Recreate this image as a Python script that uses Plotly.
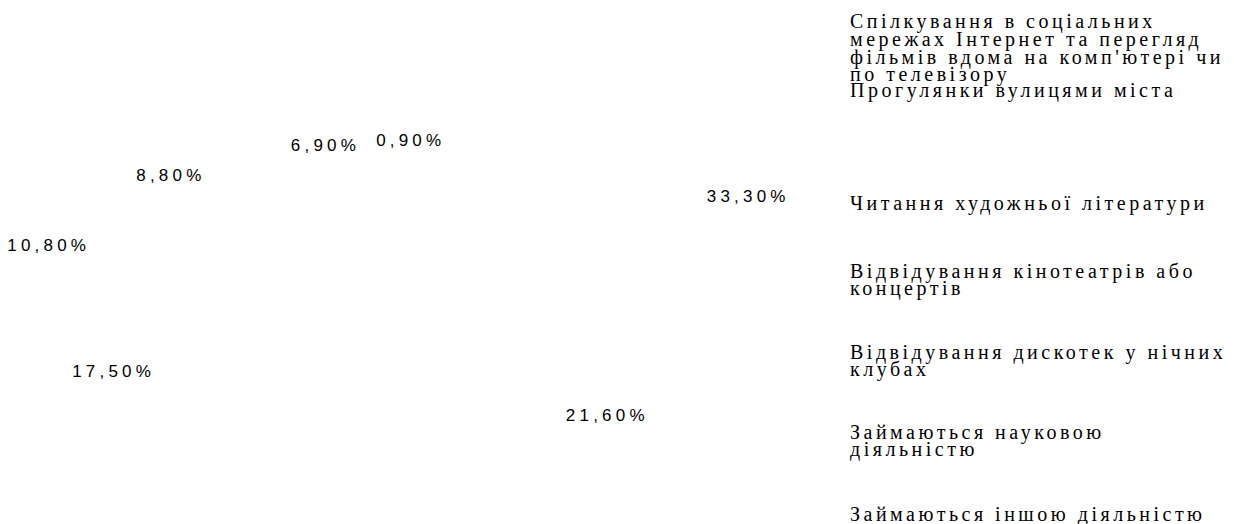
import numpy as np
import plotly.graph_objects as go

# ---- data ----
categories = [
    "Спілкування в соціальних<br>мережах Інтернет та перегляд<br>фільмів вдома на комп'ютері чи<br>по телевізору",
    "Прогулянки вулицями міста",
    "Читання художньої літератури",
    "Відвідування кінотеатрів або<br>концертів",
    "Відвідування дискотек у нічних<br>клубах",
    "Займаються науковою<br>діяльністю",
    "Займаються іншою діяльністю",
]
values = [33.3, 21.6, 17.5, 10.8, 8.8, 6.9, 0.9]
pct_labels = [f"{v:.2f}%".replace(".", ",") for v in values]

# ---- style / layout constants ----
W, H = 1234, 524
CX, CY = 425, 260          # centre of the (tilted) pie, px
RX, RY = 396, 142.5        # label ring radii, px
PERSPECTIVE = 8.0          # viewer distance (in radii) of the 3-D pie
FIRST_SLICE_DEG = -2.0     # first slice angle, clockwise from 12 o'clock
LEG_X = 841
LEG_FIRST_Y = [21, 90, 202, 270, 351, 431, 513]
LEG_LINE = 17.5
LEG_DY = -7
PCT_SPACING = "4.2px"
LEG_SPACING = "3.5px"

# label positions on a 3-D tilted pie with perspective (clockwise)
vals = np.array(values)
cum = np.cumsum(vals)
mid = (cum - vals / 2) / vals.sum() * 2 * np.pi + np.deg2rad(FIRST_SLICE_DEG)
scale = PERSPECTIVE / (PERSPECTIVE + np.cos(mid))
lx = np.sin(mid) * scale
ly = np.cos(mid) * scale

fig = go.Figure()

# the pie itself (slices are invisible in the reference)
fig.add_trace(go.Pie(
    labels=[c.replace("<br>", " ") for c in categories], values=values,
    sort=False, direction="clockwise", rotation=FIRST_SLICE_DEG,
    marker=dict(colors=["rgba(0,0,0,0)"] * len(values), line=dict(width=0)),
    textinfo="none", hoverinfo="skip", showlegend=False,
    domain=dict(x=[0.28, 0.38], y=[0.4, 0.5]),
))

fig.add_trace(go.Scatter(
    x=lx, y=ly, mode="text",
    text=[f"<span style='letter-spacing:{PCT_SPACING}'>{t}</span>" for t in pct_labels],
    textposition="middle center", cliponaxis=False,
    textfont=dict(family="Liberation Sans", size=17, color="#000000"),
    hoverinfo="skip", showlegend=False,
))

# legend text (no swatches in the reference)
annotations = []
for cat, y0 in zip(categories, LEG_FIRST_Y):
    for i, line in enumerate(cat.split("<br>")):
        py = y0 + i * LEG_LINE + LEG_DY
        annotations.append(dict(
            x=LEG_X / W, y=1 - py / H, xref="paper", yref="paper",
            xanchor="left", yanchor="middle", align="left", showarrow=False,
            borderpad=0,
            text=f"<span style='letter-spacing:{LEG_SPACING}'>{line}</span>",
            font=dict(family="Liberation Serif", size=20, color="#000000"),
        ))

fig.update_layout(
    width=W, height=H,
    margin=dict(l=0, r=0, t=0, b=0),
    paper_bgcolor="white", plot_bgcolor="white",
    xaxis=dict(range=[-CX / RX, (W - CX) / RX], visible=False, fixedrange=True),
    yaxis=dict(range=[-(H - CY) / RY, CY / RY], visible=False, fixedrange=True),
    annotations=annotations,
    showlegend=False,
)

fig.write_html("out.html")
